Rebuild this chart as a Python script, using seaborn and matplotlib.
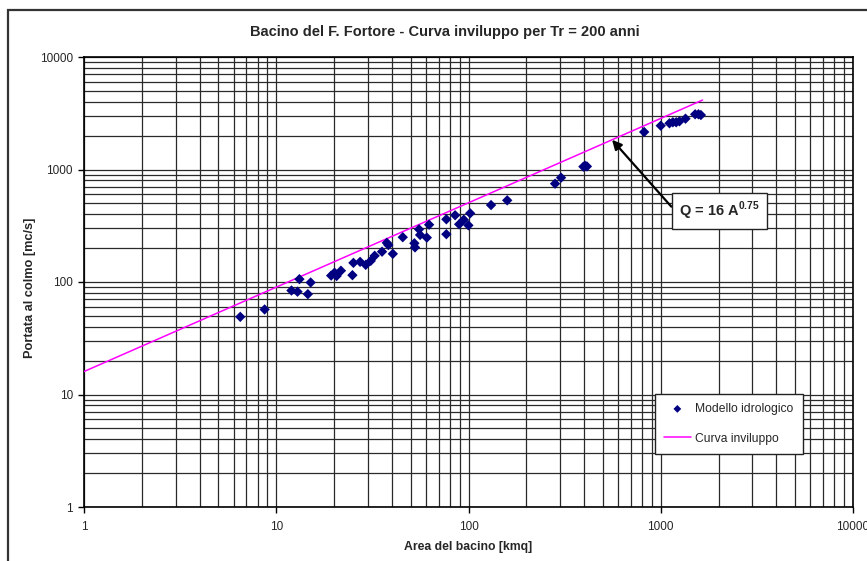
import numpy as np
import pandas as pd
import seaborn as sns
import matplotlib
matplotlib.use("Agg")
import matplotlib.pyplot as plt
from matplotlib.patches import Rectangle
from matplotlib.ticker import FixedLocator, FuncFormatter, NullFormatter

# Catchment area [kmq] and peak discharge [mc/s] from the hydrological model
area = [6.5, 8.7, 12.0, 12.9, 13.2, 15.1, 14.6, 19.3, 20.1, 20.6, 21.7, 24.9,
        25.2, 27.3, 29.2, 31.0, 32.5, 35.5, 37.6, 38.3, 40.4, 45.5, 52.3, 52.7,
        55.3, 56.0, 60.7, 62.4, 76.7, 76.7, 85.2, 89.4, 94.5, 99.9, 102.0,
        131.0, 159.0, 282.0, 303.0, 396.0, 405.0, 413.0, 820.0, 1000.0,
        1110.0, 1156.0, 1203.0, 1251.0, 1345.0, 1510.0, 1571.0, 1617.0]
portata = [49, 57, 84, 82, 106, 99, 78, 114, 121, 113, 126, 115,
           148, 151, 142, 154, 171, 186, 223, 213, 178, 250, 221, 203,
           294, 262, 248, 323, 361, 266, 392, 326, 358, 319, 408,
           483, 532, 748, 846, 1060, 1075, 1065, 2154, 2450,
           2576, 2630, 2630, 2681, 2829, 3096, 3096, 3050]

# Envelope curve Q = 16 A^0.75
env_coef = 16
env_exp = 0.75
env_area = [1, 1650]

title = "Bacino del F. Fortore - Curva inviluppo per Tr = 200 anni"
xlabel = "Area del bacino [kmq]"
ylabel = "Portata al colmo [mc/s]"
decade_ticks = [1, 10, 100, 1000, 10000]

sns.set_style("white")
plt.rcParams["font.family"] = ["Liberation Sans", "DejaVu Sans"]
plt.rcParams["mathtext.fontset"] = "custom"
plt.rcParams["mathtext.rm"] = "Liberation Sans"
plt.rcParams["mathtext.bf"] = "Liberation Sans:bold"

W, H = 867, 561
fig = plt.figure(figsize=(W / 100, H / 100), dpi=100)
fig.patch.set_facecolor("white")

# outer chart border
fig.add_artist(Rectangle((8 / W, -0.2), 2.0, 1.2 - 10 / H, transform=fig.transFigure,
                         fill=False, edgecolor="#333333", lw=1.6))

x0, x1, yt, yb = 84, 853, 57, 507
ax = fig.add_axes([x0 / W, 1 - yb / H, (x1 - x0) / W, (yb - yt) / H])

df = pd.DataFrame({"area": area, "portata": portata})
env = pd.DataFrame({"area": env_area,
                    "portata": [env_coef * a ** env_exp for a in env_area]})

ax.set_xscale("log")
ax.set_yscale("log")
ax.set_xlim(1, 10000)
ax.set_ylim(1, 10000)

sns.scatterplot(data=df, x="area", y="portata", ax=ax, marker="D", s=28,
                color="#000080", edgecolor="none", label="Modello idrologico",
                zorder=4)
sns.lineplot(data=env, x="area", y="portata", ax=ax, color="#FF00FF", lw=1.1,
             label="Curva inviluppo", zorder=3)

# grid on every major and minor decade line
minor = [m * 10 ** k for k in range(0, 4) for m in range(2, 10)]
ax.xaxis.set_major_locator(FixedLocator(decade_ticks))
ax.yaxis.set_major_locator(FixedLocator(decade_ticks))
ax.xaxis.set_minor_locator(FixedLocator(minor))
ax.yaxis.set_minor_locator(FixedLocator(minor))
fmt = FuncFormatter(lambda v, p: f"{v:g}")
ax.xaxis.set_major_formatter(fmt)
ax.yaxis.set_major_formatter(fmt)
ax.xaxis.set_minor_formatter(NullFormatter())
ax.yaxis.set_minor_formatter(NullFormatter())
ax.grid(True, which="both", color="#2a2a2a", lw=0.9)
ax.set_axisbelow(True)

ax.tick_params(axis="both", which="major", direction="out", length=4, width=1,
               color="black", labelsize=8.5, pad=4, bottom=True, left=True)
ax.tick_params(axis="x", which="major", pad=6)
ax.tick_params(axis="both", which="minor", length=0)
for s in ax.spines.values():
    s.set_color("black")
    s.set_linewidth(1.2)

ax.set_xlabel("")
ax.set_ylabel("")
fig.text(468 / W, 1 - 547 / H, xlabel, ha="center", va="center",
         fontsize=8.8, fontweight="bold")
fig.text(30 / W, 1 - 288 / H, ylabel, ha="center", va="center",
         rotation=90, fontsize=9.2, fontweight="bold")
fig.text(445 / W, 1 - 32 / H, title, ha="center", va="center",
         fontsize=10.5, fontweight="bold")

leg = ax.legend(loc="upper left", bbox_to_anchor=((655 - x0) / (x1 - x0), (yb - 394) / (yb - yt)),
                borderaxespad=0, frameon=True, fancybox=False, framealpha=1,
                edgecolor="#222222", fontsize=8.7, labelspacing=1.45,
                handlelength=2.2, handletextpad=0.4, borderpad=0.75,
                markerscale=0.75)
leg.get_frame().set_linewidth(1.0)

# envelope label with arrow pointing to the curve
tip_a = 558
ax.annotate(r"Q = 16 A$^{\mathbf{0.75}}$",
            xy=(tip_a, env_coef * tip_a ** env_exp),
            xytext=(2020, 428), textcoords="data",
            ha="center", va="center", fontsize=10.5, fontweight="bold", zorder=6,
            bbox=dict(boxstyle="square,pad=0.5", fc="white", ec="#222222", lw=1.0),
            arrowprops=dict(arrowstyle="-|>", color="black", lw=1.6,
                            mutation_scale=14, shrinkA=0, shrinkB=0,
                            relpos=(0.0, 0.3)))

fig.savefig("out.png", dpi=100, facecolor="white")
